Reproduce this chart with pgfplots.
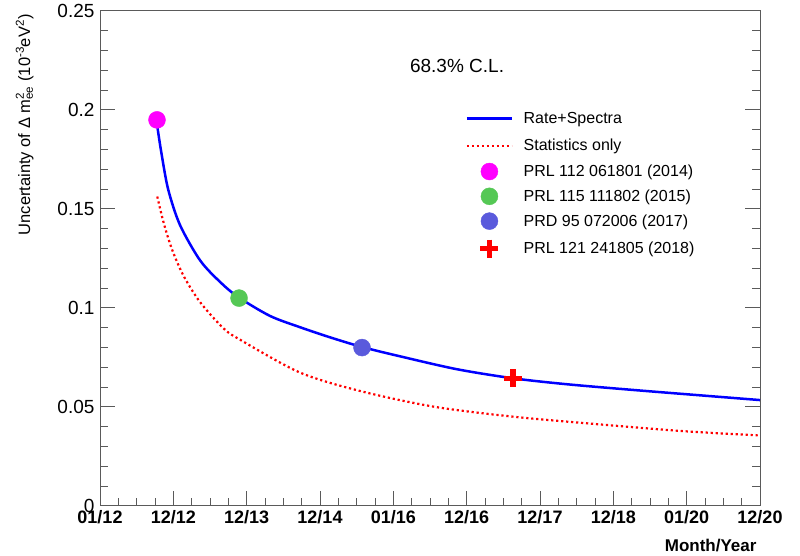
\documentclass[border=0pt]{standalone}
\usepackage{pgfplots}
\pgfplotsset{compat=1.18}
\usepackage{fontspec}
\setmainfont{Liberation Sans}
\definecolor{cmag}{RGB}{255,0,255}
\definecolor{cgreen}{RGB}{85,200,85}
\definecolor{cblue}{RGB}{90,90,220}
\definecolor{axgray}{RGB}{90,90,90}
\pgfplotsset{
  lineleg/.style={legend image code/.code={\path (0pt,-9pt) (53pt,9pt); \draw[##1] (0pt,0pt) -- (45pt,0pt);}},
  markleg/.style={legend image code/.code={\path (0pt,-9pt) (53pt,9pt); \draw[##1] plot coordinates {(22.5pt,0pt)};}},
}
\begin{document}
\begin{tikzpicture}
\useasboundingbox (0,0) rectangle (800pt,556pt);
\begin{axis}[
  at={(100pt,50pt)}, anchor=south west,
  scale only axis, width=660pt, height=495pt,
  xmin=0, xmax=9, ymin=0, ymax=0.25,
  axis line style={axgray, line width=1pt},
  tick style={axgray, line width=1pt},
  tick align=inside,
  xtick pos=bottom, ytick pos=both,
  major tick length=15pt, minor tick length=8pt,
  xtick={0,1,2,3,4,5,6,7,8,9},
  xticklabels={01/12,12/12,12/13,12/14,01/16,12/16,12/17,12/18,01/20,12/20},
  minor x tick num=3,
  ytick={0,0.05,0.1,0.15,0.2,0.25},
  yticklabels={0,0.05,0.1,0.15,0.2,0.25},
  minor y tick num=4,
  xticklabel style={font=\fontsize{18}{20}\selectfont\bfseries, yshift=-1pt},
  yticklabel style={font=\fontsize{19}{22}\selectfont, xshift=-2pt},
  xlabel={\bfseries Month/Year},
  every axis x label/.style={at={(axis description cs:1,-0.079)}, anchor=east, font=\fontsize{17}{20}\selectfont},
  ylabel={Uncertainty of Δ m\rlap{\textsuperscript{2}}\textsubscript{ee} (10\textsuperscript{-3}eV\textsuperscript{2})},
  every axis y label/.style={at={(axis description cs:-0.114,0.77)}, rotate=90, anchor=center, font=\fontsize{16.5}{19}\selectfont},
  legend style={draw=none, fill=none, at={(axis description cs:0.5515,0.804)}, anchor=north west,
    font=\fontsize{16}{19}\selectfont, row sep=6.8pt, inner sep=0pt,
    nodes={inner sep=1pt}},
  legend cell align=left,
]
\addplot[blue, line width=2.5pt, smooth, tension=0.5, lineleg] coordinates {
(0.777,0.195) (0.781,0.1919) (0.841,0.1775) (0.931,0.1597) (1.091,0.1419)
(1.364,0.1241) (1.636,0.1132) (1.886,0.1055) (2.318,0.0960) (2.727,0.0903)
(3.136,0.0852) (3.573,0.0803) (4.091,0.0756) (4.864,0.0691) (5.632,0.0645)
(6.364,0.0615) (7.273,0.0586) (8.182,0.0559) (9.0,0.0535)};
\addlegendentry{Rate+Spectra}
\addplot[red, line width=2.2pt, dash pattern=on 2.2pt off 2.8pt, smooth, tension=0.5, lineleg] coordinates {
(0.781,0.1563) (0.864,0.1436) (0.977,0.1301) (1.136,0.1165) (1.364,0.1030)
(1.682,0.0898) (1.909,0.0840) (2.727,0.0674) (3.545,0.0581) (4.545,0.0502)
(5.636,0.0451) (6.818,0.0412) (7.955,0.0378) (9.0,0.0356)};
\addlegendentry{Statistics only}
\addplot[only marks, mark=*, mark size=8.5pt, color=cmag, draw=none, markleg] coordinates {(0.777,0.195)};
\addlegendentry{PRL 112 061801 (2014)}
\addplot[only marks, mark=*, mark size=8.5pt, color=cgreen, draw=none, markleg] coordinates {(1.896,0.105)};
\addlegendentry{PRL 115 111802 (2015)}
\addplot[only marks, mark=*, mark size=8.5pt, color=cblue, draw=none, markleg] coordinates {(3.573,0.080)};
\addlegendentry{PRD 95 072006 (2017)}
\addplot[only marks, mark=+, mark size=9pt, color=red, line width=5.5pt, markleg] coordinates {(5.632,0.0645)};
\addlegendentry{PRL 121 241805 (2018)}
\node[font=\fontsize{19}{22}\selectfont] at (axis description cs:0.541,0.889) {68.3\% C.L.};
\end{axis}
\end{tikzpicture}
\end{document}
